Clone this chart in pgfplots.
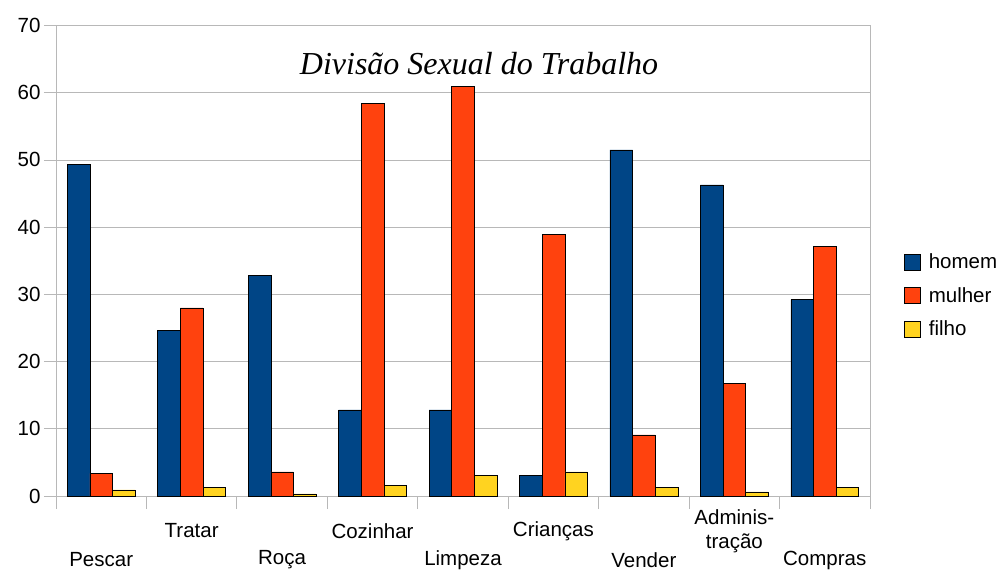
\documentclass[border=0pt]{standalone}
\usepackage{pgfplots}
\pgfplotsset{compat=1.18}
\usepackage{pgfplotstable}
\usepackage{fontspec}
\setmainfont{Liberation Sans}
\newfontfamily\titlefont{Liberation Serif}
\definecolor{chom}{HTML}{004586}
\definecolor{cmul}{HTML}{FF420E}
\definecolor{cfil}{HTML}{FFD320}
\definecolor{gridc}{HTML}{B8B8B8}
\pgfplotstableread{
x homem mulher filho
0 49.35 3.35 0.92
1 24.65 28.0 1.24
2 32.86 3.6 0.32
3 12.8 58.4 1.57
4 12.8 60.9 3.08
5 3.08 38.9 3.6
6 51.5 9.1 1.24
7 46.3 16.8 0.6
8 29.2 37.1 1.24
}\datatable
\begin{document}
\begin{tikzpicture}[font=\fontsize{20.5}{24}\selectfont]
\begin{axis}[
  scale only axis, width=814pt, height=470.5pt,
  ybar=0pt, bar width=0.25,
  xmin=-0.5, xmax=8.5, ymin=0, ymax=70,
  ytick={0,10,...,70},
  xtick={0,...,8},
  /pgf/number format/assume math mode=true,
  xticklabels={Pescar,Tratar,Roça,Cozinhar,Limpeza,Crianças,Vender,{Adminis-\\tração},Compras},
  xticklabel style={align=center, anchor=center, yshift={ifthenelse(mod(\ticknum,2)==0,-52,-23)}},
  minor xtick={-0.5,0.5,...,8.5},
  tick align=outside, tick pos=left,
  major x tick style={draw=none},
  minor tick length=13pt, major tick length=12pt,
  ymajorgrids, grid style={gridc, line width=0.8pt},
  axis line style={gridc, line width=0.8pt},
  tick style={gridc, line width=0.8pt},
  every axis plot/.append style={draw=black, line width=0.5pt},
  legend cell align=left,
  legend style={at={(rel axis cs:1.0418,0.519)}, anchor=north west, draw=none, fill=none, inner sep=0pt, row sep=13pt, /tikz/every odd column/.append style={column sep=6pt}},
  legend image code/.code={\draw[#1, draw=black, line width=0.6pt] (0pt,-8pt) rectangle (16pt,8pt);},
]
\addplot[fill=chom] table[x=x, y=homem] {\datatable};
\addplot[fill=cmul] table[x=x, y=mulher] {\datatable};
\addplot[fill=cfil] table[x=x, y=filho] {\datatable};
\legend{homem, mulher, filho}
\coordinate (O) at (rel axis cs:0,0);
\node[font=\titlefont\itshape\fontsize{32}{36}\selectfont, anchor=base] at (rel axis cs:0.5197,0.895) {Divisão Sexual do Trabalho};
\end{axis}
\pgfresetboundingbox
\path ([shift={(-56pt,-74pt)}]O) rectangle ([shift={(945pt,496pt)}]O);
\end{tikzpicture}
\end{document}
